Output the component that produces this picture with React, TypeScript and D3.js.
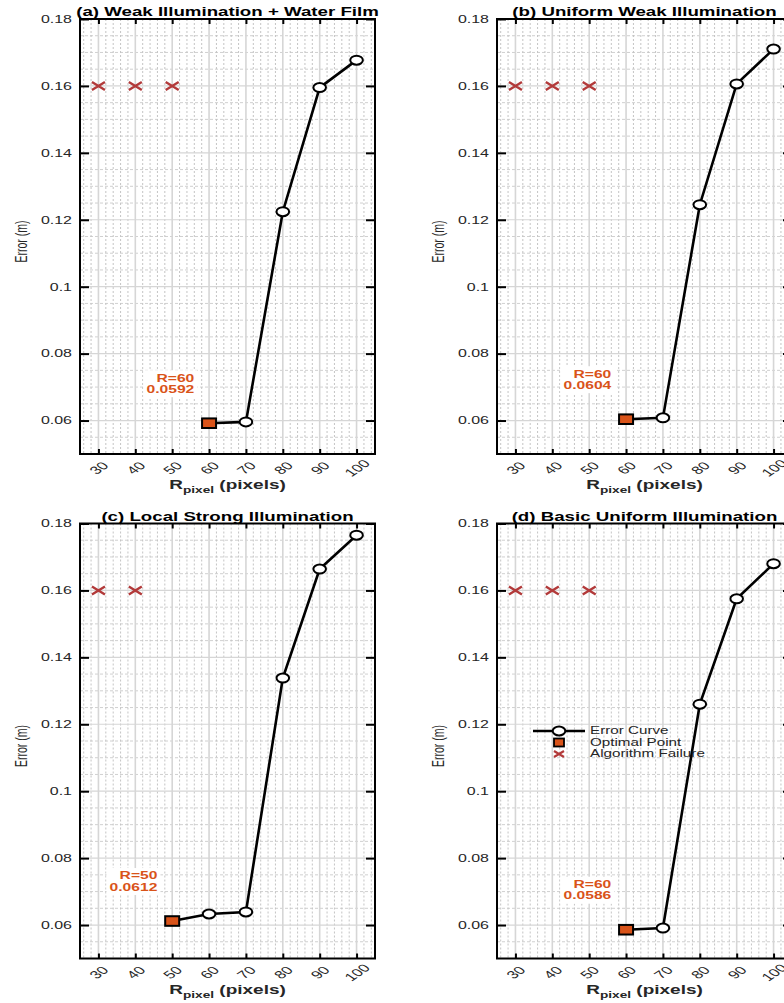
import { useEffect, useRef } from 'react';
import * as d3 from 'd3';

// R_pixel values (pixels) and error (m) per scenario; null = algorithm failure
const rPixels = [30, 40, 50, 60, 70, 80, 90, 100];
const errA = [null, null, null, 0.0592, 0.0596, 0.1224, 0.1595, 0.1677];
const errB = [null, null, null, 0.0604, 0.0608, 0.1245, 0.1606, 0.171];
const errC = [null, null, 0.0612, 0.0633, 0.0639, 0.1338, 0.1664, 0.1765];
const errD = [null, null, null, 0.0586, 0.0591, 0.126, 0.1575, 0.168];

const titles = [
  '(a) Weak Illumination + Water Film',
  '(b) Uniform Weak Illumination',
  '(c) Local Strong Illumination',
  '(d) Basic Uniform Illumination',
];
const failLevel = 0.16;
const yTickVals = [0.06, 0.08, 0.1, 0.12, 0.14, 0.16, 0.18];
const yTickLabels = ['0.06', '0.08', '0.1', '0.12', '0.14', '0.16', '0.18'];
const legendLabels = ['Error Curve', 'Optimal Point', 'Algorithm Failure'];

const W = 784;
const H = 1003;
const PW = 295;
const PH = 435;
const SX = 1.52; // the figure is stretched horizontally
const FONT = '"Liberation Sans", Arial, Helvetica, sans-serif';
const ORANGE = '#D95319';
const FAIL = '#B23A3A';

type Panel = { title: string; errs: (number | null)[]; left: number; top: number; legend: boolean };

const panels: Panel[] = [
  { title: titles[0], errs: errA, left: 80, top: 19, legend: false },
  { title: titles[1], errs: errB, left: 497, top: 19, legend: false },
  { title: titles[2], errs: errC, left: 80, top: 523.5, legend: false },
  { title: titles[3], errs: errD, left: 497, top: 523.5, legend: true },
];

const crossPath = 'M-6.5,-4L6.5,4M-6.5,4L6.5,-4';

function drawPanel(svg: d3.Selection<SVGSVGElement, unknown, null, undefined>, p: Panel) {
  const x = d3.scaleLinear().domain([25, 105]).range([0, PW]);
  const y = d3.scaleLinear().domain([0.05, 0.18]).range([PH, 0]);

  const g = svg.append('g').attr('transform', `translate(${p.left},${p.top})`);

  // minor grid
  const xMinor = d3.range(26, 105, 2).filter(d => d % 10 !== 0);
  const yMinor = d3.range(0.055, 0.18, 0.005).filter(d => Math.abs(Math.round(d * 50) - d * 50) > 0.01);
  g.append('g').selectAll('line').data(xMinor).join('line')
    .attr('x1', d => x(d)).attr('x2', d => x(d)).attr('y1', 0).attr('y2', PH)
    .attr('stroke', '#bdbdbd').attr('stroke-width', 0.9).attr('stroke-dasharray', '2,2');
  g.append('g').selectAll('line').data(yMinor).join('line')
    .attr('x1', 0).attr('x2', PW).attr('y1', d => y(d)).attr('y2', d => y(d))
    .attr('stroke', '#c4c4c4').attr('stroke-width', 0.8).attr('stroke-dasharray', '3,2');

  // major grid
  g.append('g').selectAll('line').data(rPixels).join('line')
    .attr('x1', d => x(d)).attr('x2', d => x(d)).attr('y1', 0).attr('y2', PH)
    .attr('stroke', '#d6d6d6').attr('stroke-width', 1.6);
  g.append('g').selectAll('line').data(yTickVals).join('line')
    .attr('x1', 0).attr('x2', PW).attr('y1', d => y(d)).attr('y2', d => y(d))
    .attr('stroke', '#d6d6d6').attr('stroke-width', 1.2);

  const pts = rPixels.map((r, i) => ({ r, e: p.errs[i] }));
  const valid = pts.filter(d => d.e != null) as { r: number; e: number }[];
  const opt = d3.least(valid, d => d.e)!;
  const fails = pts.filter(d => d.e == null && d.r < opt.r);

  // failure markers
  g.append('g').selectAll('path').data(fails).join('path')
    .attr('d', crossPath)
    .attr('transform', d => `translate(${x(d.r)},${y(failLevel)})`)
    .attr('fill', 'none').attr('stroke', FAIL).attr('stroke-width', 2.4);

  // error curve
  const line = d3.line<{ r: number; e: number }>().x(d => x(d.r)).y(d => y(d.e));
  g.append('path').datum(valid).attr('d', line)
    .attr('fill', 'none').attr('stroke', '#000').attr('stroke-width', 2.6);
  g.append('g').selectAll('ellipse').data(valid.filter(d => d !== opt)).join('ellipse')
    .attr('cx', d => x(d.r)).attr('cy', d => y(d.e)).attr('rx', 6.3).attr('ry', 4.5)
    .attr('fill', '#fff').attr('stroke', '#000').attr('stroke-width', 2);
  g.append('rect')
    .attr('x', x(opt.r) - 7).attr('y', y(opt.e) - 4.8).attr('width', 14).attr('height', 9.6)
    .attr('fill', ORANGE).attr('stroke', '#000').attr('stroke-width', 2);

  // annotation
  const ann = g.append('g').attr('transform', `translate(${x(opt.r - 4)},${y(opt.e + 0.012)}) scale(${SX},1)`);
  const bg = ann.append('rect').attr('fill', '#fff');
  const at = ann.append('text')
    .attr('text-anchor', 'end').attr('font-family', FONT).attr('font-size', 10.3)
    .attr('font-weight', 'bold').attr('fill', ORANGE);
  at.append('tspan').attr('x', 0).attr('y', -1.5).text(`R=${opt.r}`);
  at.append('tspan').attr('x', 0).attr('y', 9.8).text(opt.e.toFixed(4));
  const bb = (at.node() as SVGTextElement).getBBox();
  bg.attr('x', bb.x - 2).attr('y', bb.y - 2).attr('width', bb.width + 4).attr('height', bb.height + 4);

  // legend
  if (p.legend) {
    const lg = g.append('g').attr('transform', 'translate(36,207.5)');
    lg.append('line').attr('x1', 0).attr('x2', 52).attr('y1', 0).attr('y2', 0)
      .attr('stroke', '#000').attr('stroke-width', 2.6);
    lg.append('ellipse').attr('cx', 26).attr('cy', 0).attr('rx', 6.3).attr('ry', 4.5)
      .attr('fill', '#fff').attr('stroke', '#000').attr('stroke-width', 2);
    lg.append('rect').attr('x', 21).attr('y', 11.5 - 4).attr('width', 10).attr('height', 8)
      .attr('fill', ORANGE).attr('stroke', '#000').attr('stroke-width', 1.8);
    lg.append('path').attr('d', 'M-5,-3L5,3M-5,3L5,-3').attr('transform', 'translate(26,23)')
      .attr('fill', 'none').attr('stroke', FAIL).attr('stroke-width', 2.2);
    legendLabels.forEach((t, i) => {
      lg.append('text')
        .attr('transform', `translate(57,${i * 11.5}) scale(${SX},1)`)
        .attr('dominant-baseline', 'central')
        .attr('font-family', FONT).attr('font-size', 10).attr('fill', '#262626')
        .text(t);
    });
  }

  // axes
  const bottom = g.append('g').attr('transform', `translate(0,${PH})`)
    .call(d3.axisBottom(x).tickValues(rPixels).tickSizeInner(-5).tickSizeOuter(0).tickPadding(0));
  const top = g.append('g')
    .call(d3.axisTop(x).tickValues(rPixels).tickSizeInner(-5).tickSizeOuter(0).tickFormat(() => ''));
  const left = g.append('g')
    .call(d3.axisLeft(y).tickValues(yTickVals).tickSizeInner(-9).tickSizeOuter(0).tickPadding(8)
      .tickFormat((_, i) => yTickLabels[i]));
  const right = g.append('g').attr('transform', `translate(${PW},0)`)
    .call(d3.axisRight(y).tickValues(yTickVals).tickSizeInner(-9).tickSizeOuter(0).tickFormat(() => ''));
  [bottom, top, left, right].forEach(a => {
    a.select('.domain').remove();
    a.selectAll('.tick line').attr('stroke', '#000').attr('stroke-width', 2);
  });
  bottom.selectAll('.tick text')
    .attr('y', null).attr('dy', null)
    .attr('transform', `translate(0,14) scale(${SX},1) rotate(-45)`)
    .attr('text-anchor', 'middle').attr('dominant-baseline', 'central')
    .attr('font-family', FONT).attr('font-size', 11).attr('fill', '#262626');
  left.selectAll('.tick text')
    .attr('x', null)
    .attr('transform', `translate(-8,0) scale(${SX},1)`)
    .attr('font-family', FONT).attr('font-size', 10.5).attr('fill', '#262626');

  // box
  g.append('rect').attr('width', PW).attr('height', PH)
    .attr('fill', 'none').attr('stroke', '#000').attr('stroke-width', 2);

  // title
  g.append('text')
    .attr('transform', `translate(${PW / 2},-3) scale(${SX},1)`)
    .attr('text-anchor', 'middle').attr('font-family', FONT).attr('font-size', 12.3)
    .attr('font-weight', 'bold').attr('fill', '#000')
    .text(p.title);

  // y label
  g.append('text')
    .attr('transform', `translate(-58,${PH / 2 + 5}) scale(${SX},1) rotate(-90)`)
    .attr('text-anchor', 'middle').attr('dominant-baseline', 'central')
    .attr('font-family', FONT).attr('font-size', 10.5).attr('fill', '#262626')
    .text('Error (m)');

  // x label
  const xl = g.append('text')
    .attr('transform', `translate(${PW / 2},${PH + 35}) scale(${SX},1)`)
    .attr('text-anchor', 'middle').attr('font-family', FONT).attr('font-weight', 'bold')
    .attr('font-size', 12.5).attr('fill', '#262626');
  xl.append('tspan').text('R');
  xl.append('tspan').attr('font-size', 9).attr('dy', 4).text('pixel');
  xl.append('tspan').attr('dy', -4).text(' (pixels)');
}

export default function App() {
  const ref = useRef<SVGSVGElement | null>(null);

  useEffect(() => {
    if (!ref.current) return;
    const svg = d3.select(ref.current);
    svg.selectAll('*').remove();
    svg.append('rect').attr('width', W).attr('height', H).attr('fill', '#fff');
    panels.forEach(p => drawPanel(svg, p));
  }, []);

  return (
    <svg ref={ref} width={W} height={H}
      style={{ position: 'absolute', left: 0, top: 0, display: 'block', overflow: 'hidden' }} />
  );
}
